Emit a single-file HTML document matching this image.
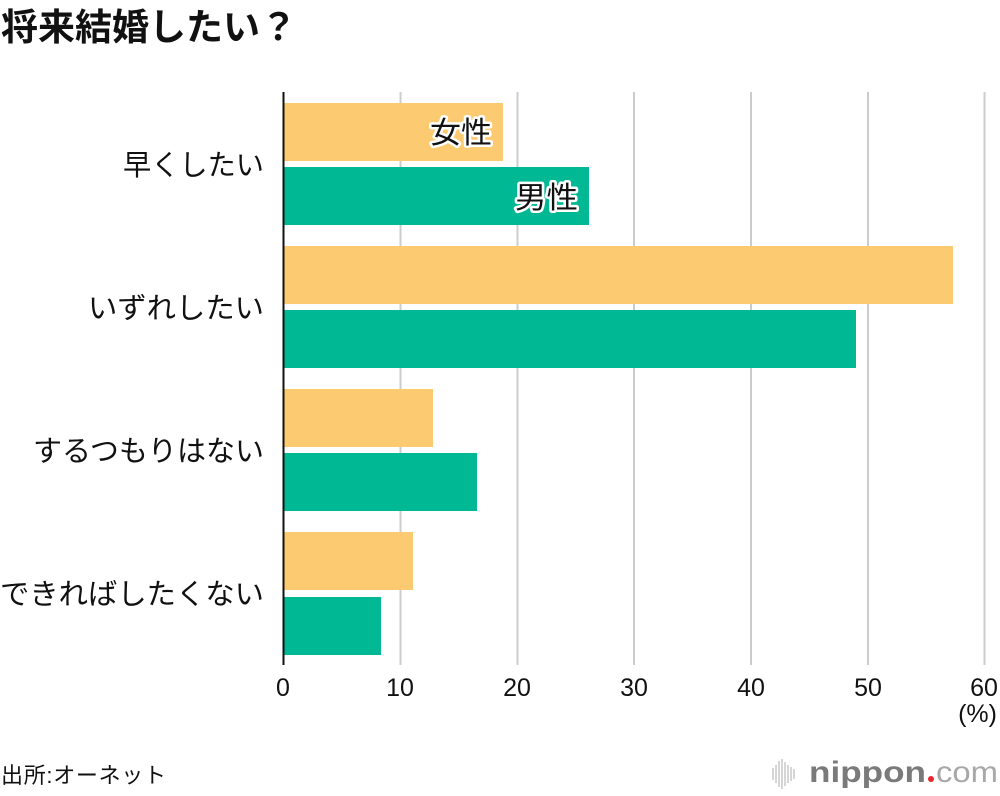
<!DOCTYPE html>
<html>
<head>
<meta charset="utf-8">
<style>
html,body{margin:0;padding:0;background:#fff;}
svg{display:block;}
.jp{font-family:"Liberation Sans","Noto Sans CJK JP",sans-serif;}
.num{font-family:"Liberation Sans",sans-serif;}
</style>
</head>
<body>
<svg width="1000" height="796" viewBox="0 0 1000 796" xmlns="http://www.w3.org/2000/svg">
  <rect width="1000" height="796" fill="#fff"/>
  <!-- title -->
  <text x="1" y="40" class="jp" font-size="37" font-weight="bold" fill="#111" textLength="296" lengthAdjust="spacing">将来結婚したい？</text>

  <!-- gridlines -->
  <g stroke="#cccccc" stroke-width="2">
    <line x1="400.5" y1="92" x2="400.5" y2="665"/>
    <line x1="517.5" y1="92" x2="517.5" y2="665"/>
    <line x1="634" y1="92" x2="634" y2="665"/>
    <line x1="751" y1="92" x2="751" y2="665"/>
    <line x1="868" y1="92" x2="868" y2="665"/>
    <line x1="984.5" y1="92" x2="984.5" y2="665"/>
  </g>

  <!-- bars -->
  <g>
    <rect x="284" y="103" width="219" height="58" fill="#FCCA70"/>
    <rect x="284" y="167" width="305" height="58" fill="#00B894"/>
    <rect x="284" y="246" width="669" height="58" fill="#FCCA70"/>
    <rect x="284" y="310" width="572" height="58" fill="#00B894"/>
    <rect x="284" y="389" width="149" height="58" fill="#FCCA70"/>
    <rect x="284" y="453" width="193" height="58" fill="#00B894"/>
    <rect x="284" y="532" width="129" height="58" fill="#FCCA70"/>
    <rect x="284" y="597" width="97" height="58" fill="#00B894"/>
  </g>

  <!-- axis -->
  <line x1="283.5" y1="92" x2="283.5" y2="665" stroke="#111" stroke-width="2"/>

  <!-- in-bar labels -->
  <g class="jp" font-size="30" fill="#111" stroke="#fff" stroke-width="5" paint-order="stroke" stroke-linejoin="round">
    <text x="430" y="143" textLength="62" lengthAdjust="spacingAndGlyphs">女性</text>
    <text x="515" y="208" textLength="63" lengthAdjust="spacingAndGlyphs">男性</text>
  </g>

  <!-- category labels -->
  <g class="jp" font-size="29" fill="#111" text-anchor="end">
    <text x="264" y="175" textLength="141" lengthAdjust="spacingAndGlyphs">早くしたい</text>
    <text x="264" y="318" textLength="176" lengthAdjust="spacingAndGlyphs">いずれしたい</text>
    <text x="264" y="461" textLength="231" lengthAdjust="spacingAndGlyphs">するつもりはない</text>
    <text x="264" y="604" textLength="264" lengthAdjust="spacingAndGlyphs">できればしたくない</text>
  </g>

  <!-- tick labels -->
  <g class="num" font-size="25" fill="#111" text-anchor="middle">
    <text x="283" y="696">0</text>
    <text x="400" y="696">10</text>
    <text x="517" y="696">20</text>
    <text x="634" y="696">30</text>
    <text x="751" y="696">40</text>
    <text x="868" y="696">50</text>
    <text x="984" y="696">60</text>
  </g>
  <text x="997" y="722" class="num" font-size="25" fill="#111" text-anchor="end">(%)</text>

  <!-- source -->
  <text x="1" y="783" class="jp" font-size="22" fill="#111" textLength="165" lengthAdjust="spacing">出所:オーネット</text>

  <!-- logo -->
  <g stroke="#c8c8c8" stroke-width="1.5">
    <line x1="773" y1="768" x2="773" y2="780"/>
    <line x1="776" y1="765" x2="776" y2="783"/>
    <line x1="779" y1="761" x2="779" y2="787"/>
    <line x1="782" y1="759" x2="782" y2="789"/>
    <line x1="785" y1="762" x2="785" y2="786"/>
    <line x1="788" y1="765" x2="788" y2="783"/>
    <line x1="791" y1="767" x2="791" y2="781"/>
    <line x1="794" y1="769" x2="794" y2="779"/>
  </g>
  <text x="809" y="782" class="num" font-size="30" font-weight="bold" fill="#7a7a7a" textLength="117" lengthAdjust="spacingAndGlyphs">nippon</text>
  <circle cx="931" cy="779" r="3" fill="#e8262c"/>
  <text x="936" y="782" class="num" font-size="30" fill="#a8a8a8" textLength="62" lengthAdjust="spacingAndGlyphs">com</text>
</svg>
</body>
</html>
